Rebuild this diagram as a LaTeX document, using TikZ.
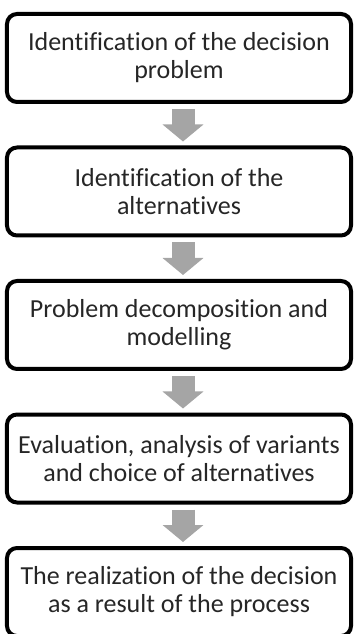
\documentclass[tikz,border=0pt]{standalone}
\usepackage{fontspec}
\setmainfont{Carlito}[Ligatures={NoCommon,NoRequired,NoContextual}]
\usetikzlibrary{positioning,arrows.meta}
\definecolor{g1}{HTML}{A5A5A5}
\definecolor{t1}{HTML}{262626}
\tikzstyle{stagebox}=[draw,line width=4bp,rounded corners=10bp,minimum width=344bp,
  minimum height=88bp,align=center,outer sep=0pt,text=t1,
  font=\fontsize{26bp}{28bp}\selectfont]
\tikzstyle{down arrow}=[g1,line width=23bp,-{Triangle[length=17bp,width=40bp]}]

\begin{document}
\begin{tikzpicture}[x=1bp,y=1bp,node distance=45.5bp]
  \useasboundingbox (0,0) rectangle (355,634);
  \node[stagebox] (s1) at (179,576) {Identification of the decision\\problem};
  \node[stagebox,below=of s1] (s2) {Identification of the\\alternatives};
  \node[stagebox,below=of s2] (s3) {Problem decomposition and\\modelling};
  \node[stagebox,below=of s3] (s4) {Evaluation, analysis of variants\\and choice of alternatives};
  \node[stagebox,below=of s4] (s5) {The realization of the decision\\as a result of the process};
  \foreach \a/\b in {s1/s2,s2/s3,s3/s4,s4/s5}
    \draw[down arrow] ([xshift=4bp,yshift=-7bp]\a.south) -- ([xshift=4bp,yshift=6bp]\b.north);
\end{tikzpicture}
\end{document}
